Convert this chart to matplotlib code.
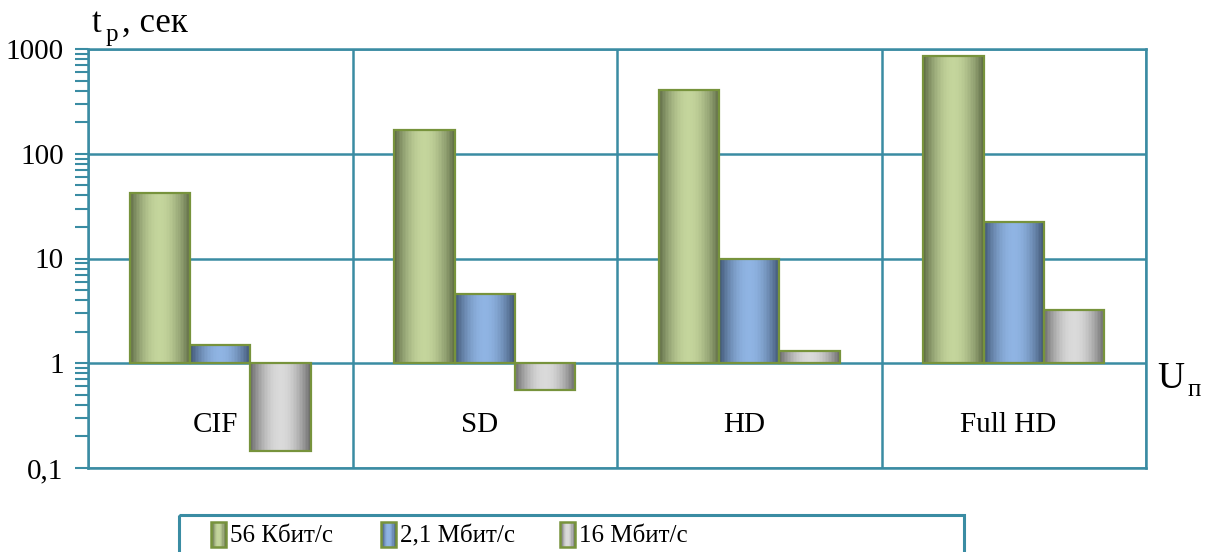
import numpy as np
import matplotlib.pyplot as plt
from matplotlib.colors import to_rgb
from matplotlib.patches import Rectangle
from matplotlib.ticker import LogLocator, NullFormatter

categories = ["CIF", "SD", "HD", "Full HD"]
series_names = ["56 Кбит/с", "2,1 Мбит/с", "16 Мбит/с"]
t_56k = [42, 167, 410, 850]
t_2m = [1.5, 4.6, 10, 22.4]
t_16m = [0.145, 0.55, 1.3, 3.25]
y_ticks = [0.1, 1, 10, 100, 1000]
y_tick_labels = ["0,1", "1", "10", "100", "1000"]

# (edge shade, centre shade) for the cylinder-like fill of each series
shades = [("#56633f", "#c4d59c"), ("#3a4f6b", "#8fb4e3"), ("#626262", "#dadada")]
edge_green = "#77933c"
teal = "#3a8ca3"

plt.rcParams["font.family"] = ["Liberation Serif", "DejaVu Serif"]


def shade_row(dark, light, n):
    t = np.linspace(0, 1, n)
    k = np.sin(np.pi * (0.02 + 0.96 * t)) ** 0.85
    d, l = np.array(to_rgb(dark)), np.array(to_rgb(light))
    return [tuple(d + (l - d) * v) for v in k]


def cylinder_bar(ax, x, value, width, dark, light, n=40):
    cols = shade_row(dark, light, n)
    xs = x - width / 2 + (np.arange(n) + 0.5) * width / n
    ax.bar(xs, value - 1, bottom=1, width=width / n * 1.05, color=cols,
           linewidth=0, antialiased=False, zorder=3)
    ax.bar(x, value - 1, bottom=1, width=width, facecolor="none",
           edgecolor=edge_green, linewidth=1.6, zorder=4)


fig = plt.figure(figsize=(12.13, 5.52), dpi=100)
ax = fig.add_axes([88 / 1213, 1 - 468 / 552, (1146 - 88) / 1213, (468 - 49) / 552])

ax.set_yscale("log")
ax.set_ylim(0.1, 1000)
ax.set_xlim(-0.5, len(categories) - 0.5)

bw = 0.228
x = np.arange(len(categories))
for i, vals in enumerate([t_56k, t_2m, t_16m]):
    for xi, v in zip(x, vals):
        cylinder_bar(ax, xi + (i - 1) * bw, v, bw, *shades[i])

# grid: decades horizontally, category borders vertically
for yv in y_ticks:
    ax.axhline(yv, color=teal, lw=1.8, zorder=2)
for xb in np.arange(len(categories) + 1) - 0.5:
    ax.axvline(xb, color=teal, lw=1.8, zorder=2)

for s in ax.spines.values():
    s.set_color(teal)
    s.set_linewidth(1.8)

ax.set_yticks(y_ticks)
ax.set_yticklabels(y_tick_labels, fontsize=21)
ax.yaxis.set_minor_locator(LogLocator(base=10, subs=np.arange(2, 10)))
ax.yaxis.set_minor_formatter(NullFormatter())
ax.tick_params(axis="y", which="both", direction="out", length=9.5, width=1.5,
               color=teal, pad=8)
ax.set_xticks([])

for xi, name in zip(x, categories):
    ax.text(xi - 0.02, 0.26, name, ha="center", va="center", fontsize=21)

# axis captions
fig.text(92 / 1213, 1 - 32 / 552, "t", fontsize=25, ha="left", va="baseline")
fig.text(106 / 1213, 1 - 41 / 552, "p", fontsize=18, ha="left", va="baseline")
fig.text(122 / 1213, 1 - 32 / 552, ", сек", fontsize=25, ha="left", va="baseline")
fig.text(1157 / 1213, 1 - 388 / 552, "U", fontsize=27, ha="left", va="baseline")
fig.text(1188 / 1213, 1 - 396 / 552, "п", fontsize=18, ha="left", va="baseline")

# legend frame and entries
lax = fig.add_axes([178 / 1213, 0, (965 - 178) / 1213, (552 - 514) / 552])
lax.set_xlim(178, 965)
lax.set_ylim(552, 514)
lax.set_axis_off()
lax.add_patch(Rectangle((179, 515), 785, 40, fill=False, edgecolor=teal, lw=2.2,
                        clip_on=False))
sw_x = [211, 381, 560]
for (dark, light), sx, name in zip(shades, sw_x, series_names):
    cols = shade_row(dark, light, 12)
    for k, c in enumerate(cols):
        lax.add_patch(Rectangle((sx + k * 15 / 12, 522), 15 / 12 + 0.1, 25,
                                facecolor=c, lw=0))
    lax.add_patch(Rectangle((sx, 522), 15, 25, fill=False, edgecolor=edge_green, lw=1.8))
    lax.text(sx + 19, 536, name, fontsize=18, ha="left", va="center")

fig.savefig("out.png", dpi=100)
